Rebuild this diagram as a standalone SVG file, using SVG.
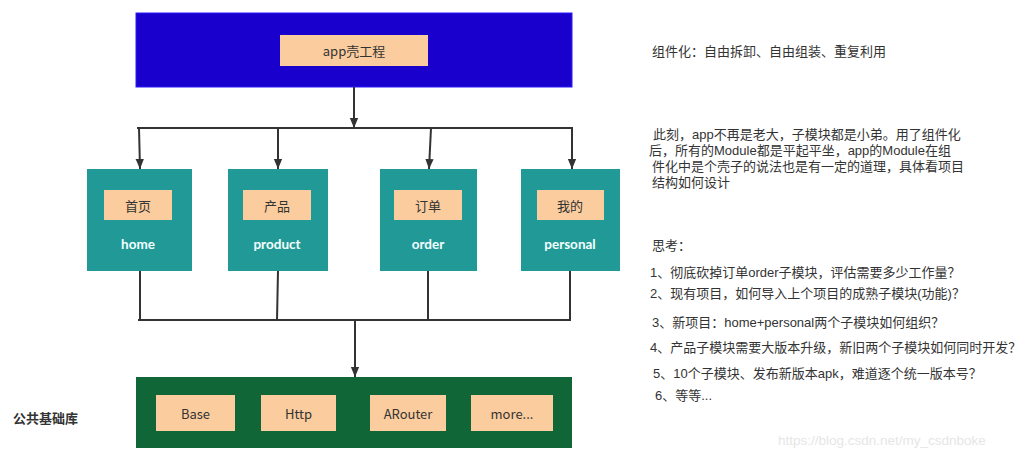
<svg xmlns="http://www.w3.org/2000/svg" width="1030" height="458" viewBox="0 0 1030 458">
<style>
.t{font-family:"Liberation Sans","Noto Sans CJK SC",sans-serif;font-size:13px;fill:#333;}
.lbl{font-family:"Noto Sans CJK SC","Liberation Sans",sans-serif;font-size:13px;fill:#333;text-anchor:middle;dominant-baseline:central;}
.name{font-family:"Lato","Liberation Sans",sans-serif;font-size:13.5px;font-weight:bold;fill:#f4ffff;text-anchor:middle;dominant-baseline:central;}
.peach{fill:#fbcc9d;}
.mod{fill:#219a97;}
.ln{stroke:#333;stroke-width:2;fill:none;}
</style>
<defs>
<marker id="ad" markerWidth="10" markerHeight="12" refX="12" refY="5" orient="auto" markerUnits="userSpaceOnUse" viewBox="0 0 12 10">
<path d="M0,0 L12,5 L0,10 Z" fill="#333"/>
</marker>
</defs>
<rect width="1030" height="458" fill="#fff"/>

<g id="app">
<rect x="136" y="13" width="436" height="74" fill="#1a00cc" stroke="#2a1aff" stroke-width="1"/>
<rect class="peach" x="280" y="35" width="148" height="31"/>
<text class="lbl" x="354" y="50.5">app壳工程</text>
</g>

<g id="home">
<rect class="mod" x="87" y="169" width="105" height="102"/>
<rect class="peach" x="104" y="190" width="68" height="30"/>
<text class="lbl" x="138" y="205">首页</text>
<text class="name" x="138" y="244">home</text>
</g>
<g id="product">
<rect class="mod" x="228" y="169" width="100" height="102"/>
<rect class="peach" x="243" y="190" width="68" height="30"/>
<text class="lbl" x="277" y="205">产品</text>
<text class="name" x="277" y="244">product</text>
</g>
<g id="order">
<rect class="mod" x="380" y="169" width="97" height="102"/>
<rect class="peach" x="394" y="190" width="68" height="30"/>
<text class="lbl" x="428" y="205">订单</text>
<text class="name" x="428" y="244">order</text>
</g>
<g id="personal">
<rect class="mod" x="521" y="169" width="99" height="102"/>
<rect class="peach" x="537" y="190" width="67" height="30"/>
<text class="lbl" x="570" y="205">我的</text>
<text class="name" x="570" y="244">personal</text>
</g>

<g id="base">
<rect x="136" y="377" width="436" height="71" fill="#106636"/>
<rect class="peach" x="156" y="395" width="79" height="36"/>
<text class="lbl" x="195.5" y="413">Base</text>
<rect class="peach" x="261" y="395" width="75" height="36"/>
<text class="lbl" x="298.5" y="413">Http</text>
<rect class="peach" x="370" y="395" width="76" height="36"/>
<text class="lbl" x="408" y="413">ARouter</text>
<rect class="peach" x="471" y="395" width="82" height="36"/>
<text class="lbl" x="512" y="413">more...</text>
</g>
<g id="base-label">
<text class="t" x="13" y="423" style="font-weight:bold">公共基础库</text>
</g>

<g id="connectors">
<line class="ln" x1="354" y1="87" x2="354" y2="128" marker-end="url(#ad)"/>
<line class="ln" x1="137" y1="128" x2="573" y2="128"/>
<line class="ln" x1="139" y1="128" x2="140" y2="169" marker-end="url(#ad)"/>
<line class="ln" x1="278" y1="128" x2="278" y2="169" marker-end="url(#ad)"/>
<line class="ln" x1="431" y1="128" x2="429" y2="169" marker-end="url(#ad)"/>
<line class="ln" x1="572" y1="128" x2="572" y2="169" marker-end="url(#ad)"/>
<line class="ln" x1="140" y1="271" x2="140" y2="320"/>
<line class="ln" x1="278" y1="271" x2="277" y2="320"/>
<line class="ln" x1="428" y1="271" x2="428" y2="320"/>
<line class="ln" x1="570" y1="271" x2="570" y2="320"/>
<line class="ln" x1="138" y1="320" x2="571" y2="320"/>
<line class="ln" x1="355" y1="320" x2="355" y2="377" marker-end="url(#ad)"/>
</g>

<g id="notes">
<text class="t" x="652" y="55.5">组件化：自由拆卸、自由组装、重复利用</text>
<text class="t" x="653" y="138.5">此刻，app不再是老大，子模块都是小弟。用了组件化</text>
<text class="t" x="649" y="154.5">后，所有的Module都是平起平坐，app的Module在组</text>
<text class="t" x="652" y="170.5">件化中是个壳子的说法也是有一定的道理，具体看项目</text>
<text class="t" x="652" y="187">结构如何设计</text>
<text class="t" x="652" y="249.5">思考：</text>
<text class="t" x="650" y="276.5">1、彻底砍掉订单order子模块，评估需要多少工作量？</text>
<text class="t" x="650" y="298">2、现有项目，如何导入上个项目的成熟子模块(功能)？</text>
<text class="t" x="652" y="326.5">3、新项目：home+personal两个子模块如何组织？</text>
<text class="t" x="650" y="351.5">4、产品子模块需要大版本升级，新旧两个子模块如何同时开发？</text>
<text class="t" x="653" y="377.5">5、10个子模块、发布新版本apk，难道逐个统一版本号？</text>
<text class="t" x="655" y="399.5">6、等等...</text>
<text x="778" y="444.5" style="font-family:'Liberation Sans',sans-serif;font-size:13.5px;fill:#e6e6e6">https://blog.csdn.net/my_csdnboke</text>
</g>
</svg>
